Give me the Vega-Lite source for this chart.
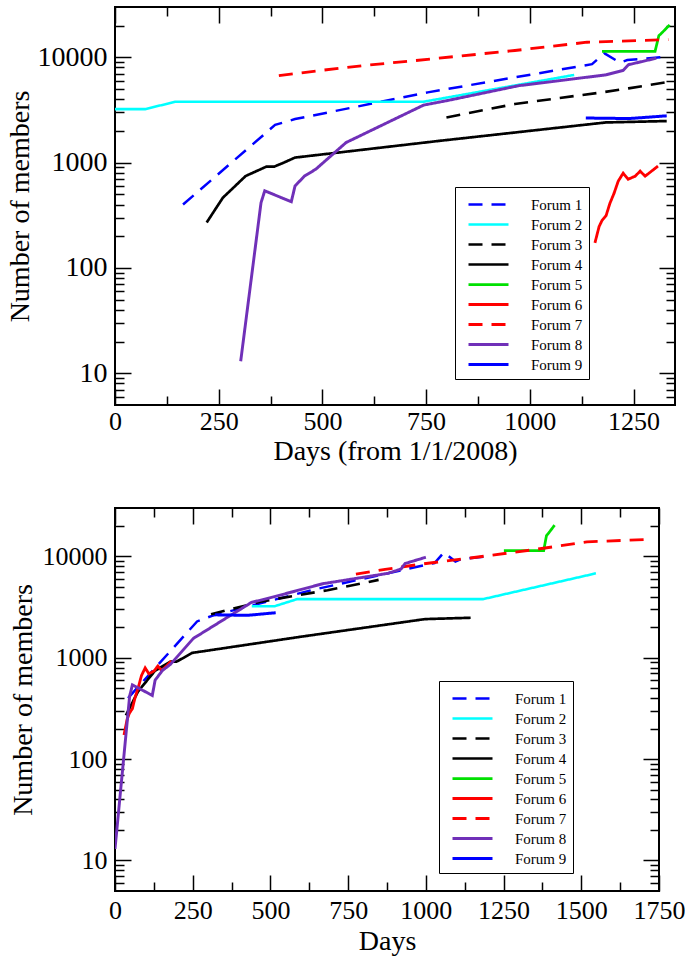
{
  "$schema": "https://vega.github.io/schema/vega-lite/v6.json",
  "padding": 5,
  "config": {
    "font": "Liberation Serif",
    "view": {"stroke": "black", "strokeWidth": 2},
    "axis": {"grid": false, "domain": false, "labelFont": "Liberation Serif", "labelFontSize": 26, "labelColor": "black", "titleFont": "Liberation Serif", "titleFontSize": 28, "titleFontWeight": "normal", "titleColor": "black", "tickColor": "black", "tickWidth": 1.5, "labelOverlap": false, "labelFlush": false},
    "legend": {"orient": "none", "title": null, "strokeColor": "black", "fillColor": "white", "padding": 6, "labelFont": "Liberation Serif", "labelFontSize": 15, "labelColor": "black", "symbolType": "M-2,0H2", "symbolSize": 400, "symbolOffset": 16, "rowPadding": 0, "labelOffset": 31}
  },
  "datasets": {
    "top": [
      {"forum": "Forum 1", "day": 164, "members": 400}, {"forum": "Forum 1", "day": 386, "members": 2280}, {"forum": "Forum 1", "day": 434, "members": 2590}, {"forum": "Forum 1", "day": 754, "members": 4640}, {"forum": "Forum 1", "day": 964, "members": 6450}, {"forum": "Forum 1", "day": 1150, "members": 8600}, {"forum": "Forum 1", "day": 1180, "members": 10900}, {"forum": "Forum 1", "day": 1217, "members": 8900}, {"forum": "Forum 1", "day": 1235, "members": 9400}, {"forum": "Forum 1", "day": 1315, "members": 10000},
      {"forum": "Forum 2", "day": 0, "members": 3220}, {"forum": "Forum 2", "day": 73, "members": 3220}, {"forum": "Forum 2", "day": 146, "members": 3785}, {"forum": "Forum 2", "day": 744, "members": 3785}, {"forum": "Forum 2", "day": 1107, "members": 6800},
      {"forum": "Forum 3", "day": 799, "members": 2685}, {"forum": "Forum 3", "day": 964, "members": 3600}, {"forum": "Forum 3", "day": 1174, "members": 4640}, {"forum": "Forum 3", "day": 1238, "members": 5070}, {"forum": "Forum 3", "day": 1338, "members": 5860},
      {"forum": "Forum 4", "day": 221, "members": 270}, {"forum": "Forum 4", "day": 260, "members": 464}, {"forum": "Forum 4", "day": 315, "members": 746}, {"forum": "Forum 4", "day": 365, "members": 916}, {"forum": "Forum 4", "day": 384, "members": 916}, {"forum": "Forum 4", "day": 407, "members": 1000}, {"forum": "Forum 4", "day": 434, "members": 1116}, {"forum": "Forum 4", "day": 781, "members": 1607}, {"forum": "Forum 4", "day": 1183, "members": 2405}, {"forum": "Forum 4", "day": 1330, "members": 2480},
      {"forum": "Forum 5", "day": 1174, "members": 11400}, {"forum": "Forum 5", "day": 1302, "members": 11400}, {"forum": "Forum 5", "day": 1311, "members": 16000}, {"forum": "Forum 5", "day": 1320, "members": 17300}, {"forum": "Forum 5", "day": 1337, "members": 20300},
      {"forum": "Forum 6", "day": 1157, "members": 173}, {"forum": "Forum 6", "day": 1167, "members": 247}, {"forum": "Forum 6", "day": 1174, "members": 282}, {"forum": "Forum 6", "day": 1184, "members": 315}, {"forum": "Forum 6", "day": 1193, "members": 410}, {"forum": "Forum 6", "day": 1203, "members": 510}, {"forum": "Forum 6", "day": 1213, "members": 665}, {"forum": "Forum 6", "day": 1225, "members": 794}, {"forum": "Forum 6", "day": 1237, "members": 695}, {"forum": "Forum 6", "day": 1254, "members": 743}, {"forum": "Forum 6", "day": 1266, "members": 830}, {"forum": "Forum 6", "day": 1278, "members": 743}, {"forum": "Forum 6", "day": 1309, "members": 927},
      {"forum": "Forum 7", "day": 395, "members": 6690}, {"forum": "Forum 7", "day": 489, "members": 7440}, {"forum": "Forum 7", "day": 598, "members": 8330}, {"forum": "Forum 7", "day": 763, "members": 9640}, {"forum": "Forum 7", "day": 964, "members": 11600}, {"forum": "Forum 7", "day": 1138, "members": 13900}, {"forum": "Forum 7", "day": 1334, "members": 14700},
      {"forum": "Forum 8", "day": 303, "members": 13}, {"forum": "Forum 8", "day": 352, "members": 416}, {"forum": "Forum 8", "day": 361, "members": 540}, {"forum": "Forum 8", "day": 425, "members": 425}, {"forum": "Forum 8", "day": 434, "members": 600}, {"forum": "Forum 8", "day": 457, "members": 746}, {"forum": "Forum 8", "day": 484, "members": 865}, {"forum": "Forum 8", "day": 557, "members": 1550}, {"forum": "Forum 8", "day": 744, "members": 3515}, {"forum": "Forum 8", "day": 799, "members": 3865}, {"forum": "Forum 8", "day": 973, "members": 5370}, {"forum": "Forum 8", "day": 1183, "members": 6800}, {"forum": "Forum 8", "day": 1225, "members": 7500}, {"forum": "Forum 8", "day": 1238, "members": 8500}, {"forum": "Forum 8", "day": 1305, "members": 9800},
      {"forum": "Forum 9", "day": 1135, "members": 2650}, {"forum": "Forum 9", "day": 1240, "members": 2620}, {"forum": "Forum 9", "day": 1330, "members": 2780}
    ],
    "bottom": [
      {"forum": "Forum 1", "day": 42, "members": 400}, {"forum": "Forum 1", "day": 264, "members": 2280}, {"forum": "Forum 1", "day": 312, "members": 2590}, {"forum": "Forum 1", "day": 632, "members": 4640}, {"forum": "Forum 1", "day": 842, "members": 6450}, {"forum": "Forum 1", "day": 1028, "members": 8600}, {"forum": "Forum 1", "day": 1058, "members": 10900}, {"forum": "Forum 1", "day": 1095, "members": 8900}, {"forum": "Forum 1", "day": 1113, "members": 9400}, {"forum": "Forum 1", "day": 1193, "members": 10000},
      {"forum": "Forum 2", "day": 440, "members": 3220}, {"forum": "Forum 2", "day": 513, "members": 3220}, {"forum": "Forum 2", "day": 586, "members": 3785}, {"forum": "Forum 2", "day": 1184, "members": 3785}, {"forum": "Forum 2", "day": 1547, "members": 6800},
      {"forum": "Forum 3", "day": 309, "members": 2685}, {"forum": "Forum 3", "day": 474, "members": 3600}, {"forum": "Forum 3", "day": 684, "members": 4640}, {"forum": "Forum 3", "day": 748, "members": 5070}, {"forum": "Forum 3", "day": 848, "members": 5860},
      {"forum": "Forum 4", "day": 35, "members": 270}, {"forum": "Forum 4", "day": 74, "members": 464}, {"forum": "Forum 4", "day": 129, "members": 746}, {"forum": "Forum 4", "day": 179, "members": 916}, {"forum": "Forum 4", "day": 198, "members": 916}, {"forum": "Forum 4", "day": 221, "members": 1000}, {"forum": "Forum 4", "day": 248, "members": 1116}, {"forum": "Forum 4", "day": 595, "members": 1607}, {"forum": "Forum 4", "day": 997, "members": 2405}, {"forum": "Forum 4", "day": 1144, "members": 2480},
      {"forum": "Forum 5", "day": 1251, "members": 11400}, {"forum": "Forum 5", "day": 1379, "members": 11400}, {"forum": "Forum 5", "day": 1388, "members": 16000}, {"forum": "Forum 5", "day": 1397, "members": 17300}, {"forum": "Forum 5", "day": 1414, "members": 20300},
      {"forum": "Forum 6", "day": 29, "members": 173}, {"forum": "Forum 6", "day": 39, "members": 247}, {"forum": "Forum 6", "day": 46, "members": 282}, {"forum": "Forum 6", "day": 56, "members": 315}, {"forum": "Forum 6", "day": 65, "members": 410}, {"forum": "Forum 6", "day": 75, "members": 510}, {"forum": "Forum 6", "day": 85, "members": 665}, {"forum": "Forum 6", "day": 97, "members": 794}, {"forum": "Forum 6", "day": 109, "members": 695}, {"forum": "Forum 6", "day": 126, "members": 743}, {"forum": "Forum 6", "day": 138, "members": 830}, {"forum": "Forum 6", "day": 150, "members": 743}, {"forum": "Forum 6", "day": 181, "members": 927},
      {"forum": "Forum 7", "day": 775, "members": 6690}, {"forum": "Forum 7", "day": 869, "members": 7440}, {"forum": "Forum 7", "day": 978, "members": 8330}, {"forum": "Forum 7", "day": 1143, "members": 9640}, {"forum": "Forum 7", "day": 1344, "members": 11600}, {"forum": "Forum 7", "day": 1518, "members": 13900}, {"forum": "Forum 7", "day": 1714, "members": 14700},
      {"forum": "Forum 8", "day": 0, "members": 13}, {"forum": "Forum 8", "day": 47, "members": 416}, {"forum": "Forum 8", "day": 56, "members": 540}, {"forum": "Forum 8", "day": 120, "members": 425}, {"forum": "Forum 8", "day": 129, "members": 600}, {"forum": "Forum 8", "day": 152, "members": 746}, {"forum": "Forum 8", "day": 179, "members": 865}, {"forum": "Forum 8", "day": 252, "members": 1550}, {"forum": "Forum 8", "day": 439, "members": 3515}, {"forum": "Forum 8", "day": 494, "members": 3865}, {"forum": "Forum 8", "day": 668, "members": 5370}, {"forum": "Forum 8", "day": 878, "members": 6800}, {"forum": "Forum 8", "day": 920, "members": 7500}, {"forum": "Forum 8", "day": 933, "members": 8500}, {"forum": "Forum 8", "day": 1000, "members": 9800},
      {"forum": "Forum 9", "day": 322, "members": 2650}, {"forum": "Forum 9", "day": 427, "members": 2620}, {"forum": "Forum 9", "day": 517, "members": 2780}
    ]
  },
  "spacing": 40,
  "resolve": {
    "scale": {"color": "independent", "strokeDash": "independent", "strokeWidth": "independent"},
    "legend": {"color": "independent", "strokeDash": "independent", "strokeWidth": "independent"}
  },
  "vconcat": [
    {
      "width": 560,
      "height": 398,
      "data": {"name": "top"},
      "layer": [
        {
          "mark": {"type": "line", "clip": true},
          "encoding": {
            "x": {"field": "day", "type": "quantitative", "scale": {"domain": [0, 1350], "nice": false, "zero": false},
              "axis": {"orient": "bottom", "values": [0, 250, 500, 750, 1000, 1250], "format": "d", "ticks": false, "labelPadding": 3, "title": "Days (from 1/1/2008)", "titlePadding": 3}},
            "y": {"field": "members", "type": "quantitative", "scale": {"type": "log", "domain": [5, 30000], "nice": false},
              "axis": {"orient": "left", "values": [10, 100, 1000, 10000], "format": "d", "ticks": false, "labelPadding": 8, "labelFontSize": 28, "title": "Number of members", "titlePadding": 3}},
            "color": {"field": "forum", "type": "nominal",
              "scale": {"domain": ["Forum 1", "Forum 2", "Forum 3", "Forum 4", "Forum 5", "Forum 6", "Forum 7", "Forum 8", "Forum 9"], "range": ["#0000ff", "#00ffff", "#000000", "#000000", "#00e000", "#ff0000", "#ff0000", "#7030b8", "#0000ff"]},
              "legend": {"legendX": 340, "legendY": 180}},
            "strokeDash": {"field": "forum", "type": "nominal",
              "scale": {"domain": ["Forum 1", "Forum 2", "Forum 3", "Forum 4", "Forum 5", "Forum 6", "Forum 7", "Forum 8", "Forum 9"], "range": [[14, 9], [1, 0], [14, 9], [1, 0], [1, 0], [1, 0], [14, 9], [1, 0], [1, 0]]},
              "legend": {"legendX": 340, "legendY": 180}},
            "strokeWidth": {"field": "forum", "type": "nominal",
              "scale": {"domain": ["Forum 1", "Forum 2", "Forum 3", "Forum 4", "Forum 5", "Forum 6", "Forum 7", "Forum 8", "Forum 9"], "range": [2.5, 3, 2.5, 2.2, 2.5, 2.5, 2.5, 5, 2.5]},
              "legend": {"legendX": 340, "legendY": 180}}
          }
        },
        {
          "mark": {"type": "point", "opacity": 0},
          "encoding": {
            "x": {"field": "day", "type": "quantitative",
              "axis": {"orient": "bottom", "values": [0, 125, 250, 375, 500, 625, 750, 875, 1000, 1125, 1250], "labels": false, "title": null,
                "tickSize": {"condition": {"test": "datum.value % 250 === 0", "value": -16}, "value": -9}}},
            "y": {"field": "members", "type": "quantitative",
              "axis": {"orient": "left", "values": [6, 7, 8, 9, 10, 20, 30, 40, 50, 60, 70, 80, 90, 100, 200, 300, 400, 500, 600, 700, 800, 900, 1000, 2000, 3000, 4000, 5000, 6000, 7000, 8000, 9000, 10000, 20000], "labels": false, "title": null,
                "tickSize": {"condition": {"test": "datum.value === 10 || datum.value === 100 || datum.value === 1000 || datum.value === 10000", "value": -16}, "value": -9}}}
          }
        },
        {
          "mark": {"type": "point", "opacity": 0},
          "encoding": {
            "x": {"field": "day", "type": "quantitative",
              "axis": {"orient": "top", "values": [0, 125, 250, 375, 500, 625, 750, 875, 1000, 1125, 1250], "labels": false, "title": null,
                "tickSize": {"condition": {"test": "datum.value % 250 === 0", "value": -16}, "value": -9}}},
            "y": {"field": "members", "type": "quantitative",
              "axis": {"orient": "right", "values": [6, 7, 8, 9, 10, 20, 30, 40, 50, 60, 70, 80, 90, 100, 200, 300, 400, 500, 600, 700, 800, 900, 1000, 2000, 3000, 4000, 5000, 6000, 7000, 8000, 9000, 10000, 20000], "labels": false, "title": null,
                "tickSize": {"condition": {"test": "datum.value === 10 || datum.value === 100 || datum.value === 1000 || datum.value === 10000", "value": -16}, "value": -9}}}
          }
        }
      ],
      "resolve": {"axis": {"x": "independent", "y": "independent"}}
    },
    {
      "width": 544,
      "height": 383,
      "data": {"name": "bottom"},
      "layer": [
        {
          "mark": {"type": "line", "clip": true},
          "encoding": {
            "x": {"field": "day", "type": "quantitative", "scale": {"domain": [0, 1750], "nice": false, "zero": false},
              "axis": {"orient": "bottom", "values": [0, 250, 500, 750, 1000, 1250, 1500, 1750], "format": "d", "ticks": false, "labelPadding": 6, "title": "Days", "titlePadding": 4}},
            "y": {"field": "members", "type": "quantitative", "scale": {"type": "log", "domain": [5, 30000], "nice": false},
              "axis": {"orient": "left", "values": [10, 100, 1000, 10000], "format": "d", "ticks": false, "labelPadding": 8, "title": "Number of members", "titlePadding": 5}},
            "color": {"field": "forum", "type": "nominal",
              "scale": {"domain": ["Forum 1", "Forum 2", "Forum 3", "Forum 4", "Forum 5", "Forum 6", "Forum 7", "Forum 8", "Forum 9"], "range": ["#0000ff", "#00ffff", "#000000", "#000000", "#00e000", "#ff0000", "#ff0000", "#7030b8", "#0000ff"]},
              "legend": {"legendX": 324, "legendY": 173}},
            "strokeDash": {"field": "forum", "type": "nominal",
              "scale": {"domain": ["Forum 1", "Forum 2", "Forum 3", "Forum 4", "Forum 5", "Forum 6", "Forum 7", "Forum 8", "Forum 9"], "range": [[14, 9], [1, 0], [14, 9], [1, 0], [1, 0], [1, 0], [14, 9], [1, 0], [1, 0]]},
              "legend": {"legendX": 324, "legendY": 173}},
            "strokeWidth": {"field": "forum", "type": "nominal",
              "scale": {"domain": ["Forum 1", "Forum 2", "Forum 3", "Forum 4", "Forum 5", "Forum 6", "Forum 7", "Forum 8", "Forum 9"], "range": [2.5, 3, 2.5, 2.2, 2.5, 2.5, 2.5, 5, 2.5]},
              "legend": {"legendX": 324, "legendY": 173}}
          }
        },
        {
          "mark": {"type": "point", "opacity": 0},
          "encoding": {
            "x": {"field": "day", "type": "quantitative",
              "axis": {"orient": "bottom", "values": [0, 125, 250, 375, 500, 625, 750, 875, 1000, 1125, 1250, 1375, 1500, 1625, 1750], "labels": false, "title": null,
                "tickSize": {"condition": {"test": "datum.value % 250 === 0", "value": -16}, "value": -9}}},
            "y": {"field": "members", "type": "quantitative",
              "axis": {"orient": "left", "values": [6, 7, 8, 9, 10, 20, 30, 40, 50, 60, 70, 80, 90, 100, 200, 300, 400, 500, 600, 700, 800, 900, 1000, 2000, 3000, 4000, 5000, 6000, 7000, 8000, 9000, 10000, 20000], "labels": false, "title": null,
                "tickSize": {"condition": {"test": "datum.value === 10 || datum.value === 100 || datum.value === 1000 || datum.value === 10000", "value": -16}, "value": -9}}}
          }
        },
        {
          "mark": {"type": "point", "opacity": 0},
          "encoding": {
            "x": {"field": "day", "type": "quantitative",
              "axis": {"orient": "top", "values": [0, 125, 250, 375, 500, 625, 750, 875, 1000, 1125, 1250, 1375, 1500, 1625, 1750], "labels": false, "title": null,
                "tickSize": {"condition": {"test": "datum.value % 250 === 0", "value": -16}, "value": -9}}},
            "y": {"field": "members", "type": "quantitative",
              "axis": {"orient": "right", "values": [6, 7, 8, 9, 10, 20, 30, 40, 50, 60, 70, 80, 90, 100, 200, 300, 400, 500, 600, 700, 800, 900, 1000, 2000, 3000, 4000, 5000, 6000, 7000, 8000, 9000, 10000, 20000], "labels": false, "title": null,
                "tickSize": {"condition": {"test": "datum.value === 10 || datum.value === 100 || datum.value === 1000 || datum.value === 10000", "value": -16}, "value": -9}}}
          }
        }
      ],
      "resolve": {"axis": {"x": "independent", "y": "independent"}}
    }
  ]
}
